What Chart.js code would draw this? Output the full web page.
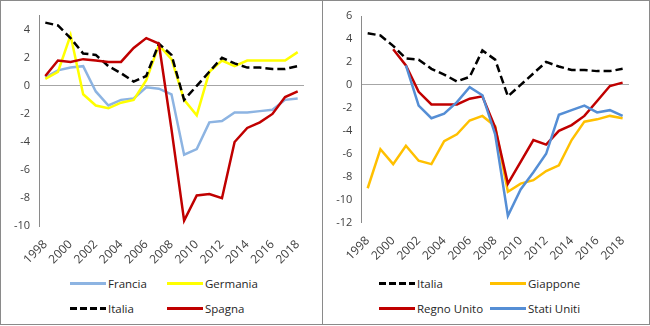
<!DOCTYPE html>
<html lang="it">
<head>
<meta charset="UTF-8">
<title>Saldo primario</title>
<script src="https://cdn.jsdelivr.net/npm/chart.js"></script>
<style>
    body {
        margin: 0;
        width: 650px;
        height: 326px;
        position: relative;
        background: #fff;
        font-family: 'Open Sans', sans-serif;
        overflow: hidden;
    }
    .box {
        position: absolute;
        top: 0;
        height: 323px;
        border: 1px solid #8a8a8a;
    }
    canvas { position: absolute; top: 0; }
    .item {
        position: absolute;
        display: flex;
        align-items: center;
        white-space: nowrap;
        height: 16px;
        font-size: 11.5px;
        color: #262626;
    }
    .swatch {
        display: inline-block;
        width: 36px;
        height: 3px;
        margin-right: 2px;
    }
    .dash {
        background: repeating-linear-gradient(to right, #000 0 7px, transparent 7px 10px);
    }
</style>
</head>
<body>
<div class="box" style="left:0; width:321px;"></div>
<div class="box" style="left:322px; width:326px;"></div>
<canvas id="left" width="323" height="270" style="left:0"></canvas>
<canvas id="right" width="327" height="270" style="left:323px"></canvas>

<div class="item" style="left:70px; top:275px;"><span class="swatch" style="background:#8db4e2"></span>Francia</div>
<div class="item" style="left:167px; top:275px;"><span class="swatch" style="background:#ffff00"></span>Germania</div>
<div class="item" style="left:70px; top:300px;"><span class="swatch dash"></span>Italia</div>
<div class="item" style="left:167px; top:300px;"><span class="swatch" style="background:#c00000"></span>Spagna</div>

<div class="item" style="left:379px; top:275px;"><span class="swatch dash"></span>Italia</div>
<div class="item" style="left:490px; top:275px;"><span class="swatch" style="background:#ffc000"></span>Giappone</div>
<div class="item" style="left:379px; top:300px;"><span class="swatch" style="background:#c00000"></span>Regno Unito</div>
<div class="item" style="left:490px; top:300px;"><span class="swatch" style="background:#558ed5"></span>Stati Uniti</div>

<script>
    const years = ['1998','1999','2000','2001','2002','2003','2004','2005','2006','2007','2008',
                   '2009','2010','2011','2012','2013','2014','2015','2016','2017','2018'];

    const francia  = [0.6, 1.1, 1.3, 1.4, -0.4, -1.4, -1.0, -0.9, -0.1, -0.2, -0.6, -4.9, -4.5, -2.6, -2.5, -1.9, -1.9, -1.8, -1.7, -1.0, -0.9];
    const germania = [0.5, 1.0, 3.6, -0.6, -1.4, -1.6, -1.2, -1.0, 0.4, 2.9, 1.9, -1.0, -2.1, 1.0, 1.8, 1.4, 1.8, 1.8, 1.8, 1.8, 2.4];
    const italia   = [4.5, 4.3, 3.4, 2.3, 2.2, 1.4, 0.9, 0.3, 0.7, 3.0, 2.2, -1.0, 0.0, 1.0, 2.0, 1.6, 1.3, 1.3, 1.2, 1.2, 1.4];
    const spagna   = [0.7, 1.8, 1.7, 1.9, 1.8, 1.7, 1.7, 2.7, 3.4, 3.0, -3.1, -9.6, -7.8, -7.7, -8.0, -4.0, -3.0, -2.6, -2.0, -0.8, -0.4];

    const giappone   = [-9.0, -5.6, -6.9, -5.3, -6.6, -6.9, -4.9, -4.3, -3.1, -2.7, -3.6, -9.3, -8.6, -8.3, -7.5, -7.0, -4.8, -3.2, -3.0, -2.7, -2.9];
    const regnoUnito = [null, null, 3.1, 1.7, -0.6, -1.7, -1.7, -1.7, -1.2, -1.0, -3.7, -8.6, -6.7, -4.8, -5.2, -4.0, -3.5, -2.7, -1.4, -0.1, 0.2];
    const statiUniti = [null, null, null, 1.7, -1.8, -2.9, -2.5, -1.5, -0.2, -0.9, -4.3, -11.4, -9.1, -7.6, -6.0, -2.6, -2.2, -1.8, -2.4, -2.2, -2.7];

    const tickFont = { family: "'Open Sans', sans-serif", size: 11 };

    function line(label, data, color, dashed) {
        return {
            label: label,
            data: data,
            borderColor: color,
            borderWidth: 2.5,
            borderDash: dashed ? [8, 4] : [],
            pointRadius: 0,
            tension: 0,
            fill: false
        };
    }

    // area: y axis width, x axis height, top and right padding
    function makeChart(id, datasets, yMin, yMax, area) {
        // later series drawn on top, as in the original
        datasets.forEach((d, i) => d.order = datasets.length - i);
        return new Chart(document.getElementById(id), {
            type: 'line',
            data: { labels: years, datasets: datasets },
            options: {
                responsive: false,
                animation: false,
                layout: { padding: { top: area.top, right: area.right, left: 0, bottom: 0 } },
                plugins: { legend: { display: false }, tooltip: { enabled: false } },
                scales: {
                    x: {
                        offset: true,
                        grid: { display: false },
                        border: { display: false },
                        ticks: {
                            autoSkip: false,
                            minRotation: 45,
                            maxRotation: 45,
                            padding: 3,
                            color: '#404040',
                            font: { family: tickFont.family, size: 12 },
                            callback: function (val, idx) {
                                return idx % 2 === 0 ? this.getLabelForValue(val) : '';
                            }
                        },
                        afterFit: (scale) => { scale.height = area.xh; }
                    },
                    y: {
                        min: yMin,
                        max: yMax,
                        grid: {
                            drawTicks: false,
                            color: (ctx) => ctx.tick && ctx.tick.value === 0 ? '#a6a6a6' : 'rgba(0,0,0,0)'
                        },
                        border: { display: true, color: '#8a8a8a' },
                        ticks: {
                            stepSize: 2,
                            includeBounds: false,
                            padding: 9,
                            color: '#404040',
                            font: tickFont
                        },
                        afterFit: (scale) => { scale.width = area.yw; }
                    }
                }
            }
        });
    }

    makeChart('left', [
        line('Francia', francia, '#8db4e2'),
        line('Germania', germania, '#ffff00'),
        line('Italia', italia, '#000000', true),
        line('Spagna', spagna, '#c00000')
    ], -10, 5, { yw: 39, xh: 43.7, top: 15, right: 19 });

    makeChart('right', [
        line('Italia', italia, '#000000', true),
        line('Giappone', giappone, '#ffc000'),
        line('Regno Unito', regnoUnito, '#c00000'),
        line('Stati Uniti', statiUniti, '#558ed5')
    ], -12, 6, { yw: 38.3, xh: 47.3, top: 16, right: 21 });
</script>
</body>
</html>
